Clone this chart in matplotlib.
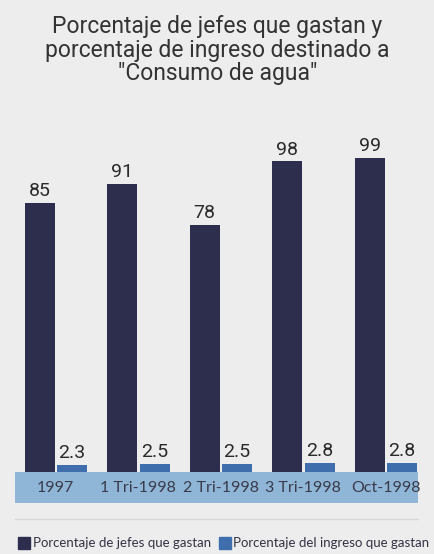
import matplotlib.pyplot as plt
from matplotlib.patches import Patch

categories = ['1997', '1 Tri-1998', '2 Tri-1998', '3 Tri-1998', 'Oct-1998']
jefes = [85, 91, 78, 98, 99]
ingreso = [2.3, 2.5, 2.5, 2.8, 2.8]

title = 'Porcentaje de jefes que gastan y\nporcentaje de ingreso destinado a\n"Consumo de agua"'
legend_labels = ['Porcentaje de jefes que gastan', 'Porcentaje del ingreso que gastan']

dark = '#2d2e4e'
blue = '#3f6ead'
band = '#8fb6d6'
narrow = ['Roboto', 'DejaVu Sans']

W, H = 435, 554
fig = plt.figure(figsize=(W / 100, H / 100), dpi=100)
fig.patch.set_facecolor('#ededed')

# axes spans from the left edge of the band to its right edge, baseline to top
left, right = 15, 418
bottom, top = 503, 140
ax = fig.add_axes([left / W, 1 - bottom / H, (right - left) / W, (bottom - top) / H])
ax.set_facecolor('none')
for s in ax.spines.values():
    s.set_visible(False)

pxu = 3.17  # pixels per unit
gap = 82.5
x0 = 55.75
ax.set_xlim((left - x0) / gap, (right - x0) / gap)
band_h = (bottom - 472) / pxu
ax.set_ylim(-band_h, (472 - top) / pxu)

x = list(range(len(categories)))
off = 16.25 / gap
bw = 30 / gap
b1 = ax.bar([i - off for i in x], jefes, bw, color=dark, zorder=3)
b2 = ax.bar([i + off for i in x], ingreso, bw, color=blue, zorder=3)
ax.bar_label(b1, labels=[str(v) for v in jefes], padding=2, fontsize=14,
             color='#2a2a2a', family=narrow)
ax.bar_label(b2, labels=[str(v) for v in ingreso], padding=2, fontsize=14,
             color='#2a2a2a', family=narrow)

ax.axhspan(-band_h, 0, color=band, zorder=1, lw=0)
for i, c in zip(x, categories):
    ax.text(i, -band_h / 2, c, ha='center', va='center', fontsize=11.5,
            color='#3a3a4a', family=['Lato', 'DejaVu Sans'], zorder=4)
ax.set_xticks([])
ax.set_yticks([])

fig.text(0.5, 1 - 50 / H, title, ha='center', va='center', fontsize=16.5,
         color='#333333', family=narrow, linespacing=1.05)

# separator line above legend
fig.add_artist(plt.Line2D([left / W, right / W], [1 - 519 / H, 1 - 519 / H],
                          color='#d8d8d8', lw=1))

handles = [Patch(color=dark), Patch(color=blue)]
fig.legend(handles, legend_labels, loc='center', bbox_to_anchor=(0.515, 1 - 543 / H),
           ncol=2, frameon=False, handlelength=0.9, handleheight=1.1,
           handletextpad=0.2, columnspacing=0.6,
           prop={'family': ['Lato', 'DejaVu Sans'], 'size': 9.5}, labelcolor='#333344')

fig.savefig('out.png', dpi=100, facecolor=fig.get_facecolor())
